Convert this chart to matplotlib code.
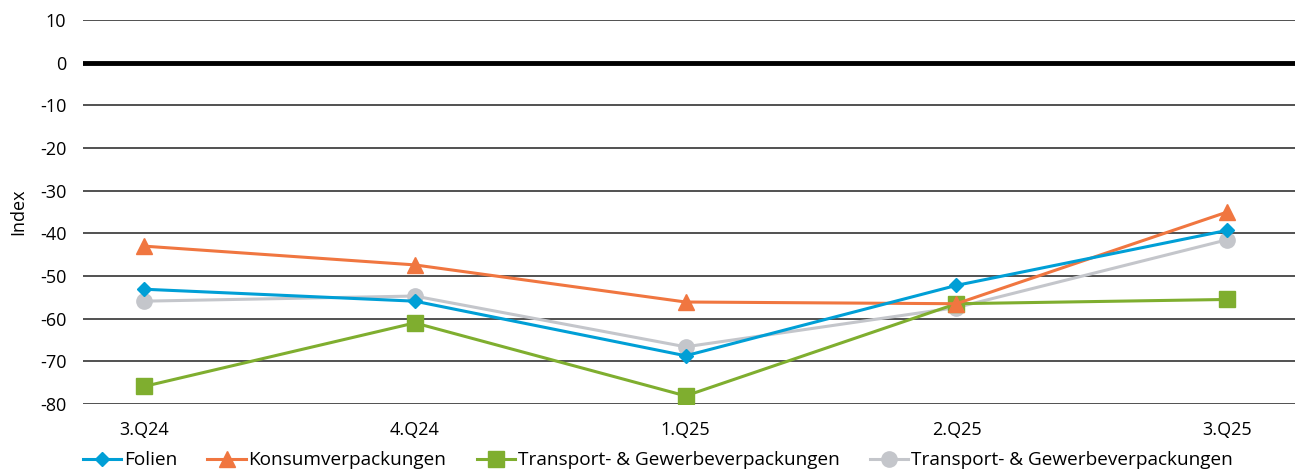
import matplotlib
matplotlib.use("Agg")
import matplotlib.pyplot as plt

plt.rcParams['font.family'] = ['Open Sans', 'DejaVu Sans']

# Quarters and index values
quarters = ['3.Q24', '4.Q24', '1.Q25', '2.Q25', '3.Q25']
folien = [-53.1, -55.9, -68.7, -52.2, -39.3]
konsum = [-43.0, -47.4, -56.1, -56.5, -35.0]
transport = [-75.9, -61.0, -78.1, -56.5, -55.5]
transport_grau = [-55.9, -54.7, -66.6, -57.4, -41.5]

yticks = [10, 0, -10, -20, -30, -40, -50, -60, -70, -80]

fig = plt.figure(figsize=(12.95, 4.71), dpi=100)
ax = fig.add_axes([0.0641, 0.1423, 0.9359, 0.8152])

x = range(len(quarters))

# gridlines
for yv in yticks:
    if yv == 0:
        ax.axhline(yv, color='black', lw=3.5, zorder=1)
    else:
        ax.axhline(yv, color='#333333', lw=1.2, zorder=1)

ax.plot(x, transport_grau, color='#C4C6CB', lw=2.2, marker='o', ms=11,
        label='Transport- & Gewerbeverpackungen', zorder=3)
ax.plot(x, transport, color='#7FAE2F', lw=2.2, marker='s', ms=11,
        label='Transport- & Gewerbeverpackungen', zorder=4)
ax.plot(x, konsum, color='#F07640', lw=2.2, marker='^', ms=12,
        label='Konsumverpackungen', zorder=5)
ax.plot(x, folien, color='#009FD6', lw=2.2, marker='D', ms=7.5,
        label='Folien', zorder=6)

ax.set_xlim(-0.225, 4.25)
ax.set_ylim(-80, 10)
ax.set_yticks(yticks)
ax.set_yticklabels([str(v) for v in yticks], fontsize=13)
ax.set_xticks(list(x))
ax.set_xticklabels(quarters, fontsize=13)
ax.tick_params(axis='both', length=0)
ax.tick_params(axis='y', pad=12)
ax.tick_params(axis='x', pad=12)
for s in ax.spines.values():
    s.set_visible(False)

ax.set_ylabel('Index', fontsize=13, labelpad=9)

handles, labels = ax.get_legend_handles_labels()
order = [3, 2, 1, 0]
fig.legend([handles[i] for i in order], [labels[i] for i in order],
           loc='center left', bbox_to_anchor=(0.064, 0.023), ncol=4,
           frameon=False, fontsize=13.7, handlelength=2.0, handletextpad=0.15,
           columnspacing=1.6, borderaxespad=0, borderpad=0)

fig.savefig('out.png', dpi=100)
